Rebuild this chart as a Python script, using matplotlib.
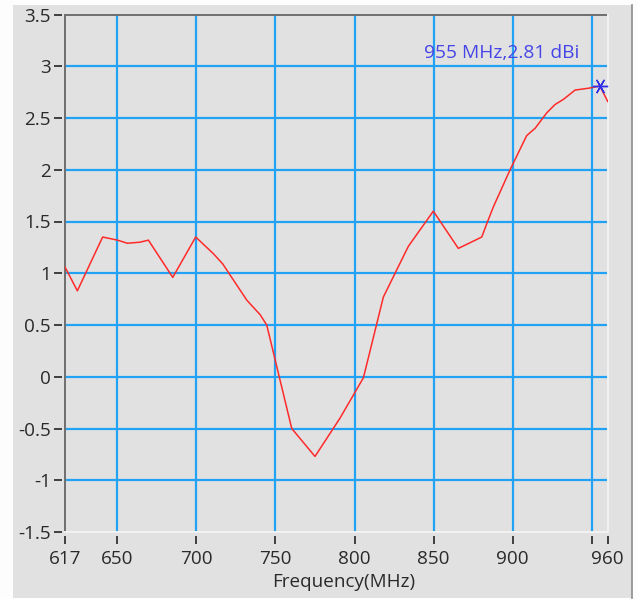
import matplotlib
matplotlib.use("Agg")
import matplotlib.pyplot as plt
from matplotlib.patches import Rectangle
from matplotlib.lines import Line2D

# ---- data ----
freq_mhz = [617, 624.8, 640.8, 650.1, 656.4, 664.4, 669.7, 685.1, 699.6, 710.7,
            716.7, 731.9, 740.3, 744.5, 760.3, 775.0, 790.8, 805.6, 818.2, 834.0,
            849.8, 865.6, 880.4, 883.6, 887.7, 898.3, 908.8, 914.1, 921.5, 926.7,
            932.0, 939.4, 948.9, 955.0, 960.0]
gain_dbi = [1.06, 0.83, 1.35, 1.32, 1.29, 1.30, 1.32, 0.96, 1.35, 1.19,
            1.09, 0.74, 0.60, 0.50, -0.50, -0.77, -0.40, -0.01, 0.77, 1.26,
            1.60, 1.24, 1.35, 1.48, 1.64, 2.00, 2.33, 2.40, 2.55, 2.63,
            2.68, 2.77, 2.79, 2.81, 2.66]
marker_freq = 955
marker_gain = 2.81
marker_label = "955 MHz,2.81 dBi"

x_ticks = [617, 650, 700, 750, 800, 850, 900, 950, 960]
x_tick_labels = ["617", "650", "700", "750", "800", "850", "900", "", "960"]
x_grid = [650, 700, 750, 800, 850, 900, 950]
y_ticks = [3.5, 3, 2.5, 2, 1.5, 1, 0.5, 0, -0.5, -1, -1.5]
y_tick_labels = ["3.5", "3", "2.5", "2", "1.5", "1", "0.5", "0", "-0.5", "-1", "-1.5"]
y_grid = [3, 2.5, 2, 1.5, 1, 0.5, 0, -0.5, -1]
x_label = "Frequency(MHz)"

W, H = 638, 599
fig = plt.figure(figsize=(W / 100, H / 100), dpi=100)
fig.patch.set_facecolor("#fdfdfd")

panel_color = "#e1e1e1"
fig.add_artist(Rectangle((13 / W, 1 - 598 / H), (632 - 13) / W, (598 - 5) / H,
                         transform=fig.transFigure, facecolor=panel_color,
                         edgecolor="none", zorder=0))
fig.add_artist(Line2D([632 / W, 632 / W], [1 - 598 / H, 1 - 5 / H],
                      transform=fig.transFigure, color="#8c8c8c", lw=1.2))

left, right, top, bottom = 65, 607.7, 14.5, 532
ax = fig.add_axes([left / W, 1 - bottom / H, (right - left) / W, (bottom - top) / H])
ax.set_facecolor(panel_color)
ax.set_xlim(617, 960)
ax.set_ylim(-1.5, 3.5)

grid_color = "#22a2f4"
for gx in x_grid:
    ax.axvline(gx, color=grid_color, lw=1.6, zorder=1)
for gy in y_grid:
    ax.axhline(gy, color=grid_color, lw=1.6, zorder=1)

# frame: dark on left/top, light on right/bottom
for s in ax.spines.values():
    s.set_color("none")
ax.spines["left"].set_position(("outward", 2))
ax.spines["bottom"].set_position(("outward", 3))
ax.axvline(617, color="#6e6e6e", lw=1.4, zorder=3, clip_on=False)
ax.axhline(3.5, color="#6e6e6e", lw=1.4, zorder=3, clip_on=False)
ax.axvline(960, color="#f2f2f2", lw=1.4, zorder=3, clip_on=False)
ax.axhline(-1.5, color="#f2f2f2", lw=1.4, zorder=3, clip_on=False)

ax.plot(freq_mhz, gain_dbi, color="#ff2a2a", lw=1.1, zorder=4)
ax.plot([marker_freq], [marker_gain], linestyle="none", marker=(6, 2, 90),
        markersize=11, markeredgecolor="#3030e8", markeredgewidth=1.0, zorder=5)
ax.text(942, 3.13, marker_label, color="#4646e6", fontsize=13.8,
        family="Open Sans", ha="right", va="center", zorder=6)

ax.set_xticks(x_ticks)
ax.set_xticklabels(x_tick_labels)
ax.set_yticks(y_ticks)
ax.set_yticklabels(y_tick_labels)
ax.tick_params(axis="both", colors="#333333", labelcolor="#2a2a2a",
               length=6, width=1.3, labelsize=13.6)
ax.tick_params(axis="x", pad=4)
ax.tick_params(axis="y", pad=2)
for lab in ax.get_xticklabels() + ax.get_yticklabels():
    lab.set_family("Open Sans")

ax.set_xlabel(x_label, fontsize=13.6, family="Open Sans", color="#2a2a2a")
ax.xaxis.set_label_coords((344 - left) / (right - left), -(573 - bottom) / (bottom - top))

fig.savefig("out.png", dpi=100, facecolor=fig.get_facecolor())
